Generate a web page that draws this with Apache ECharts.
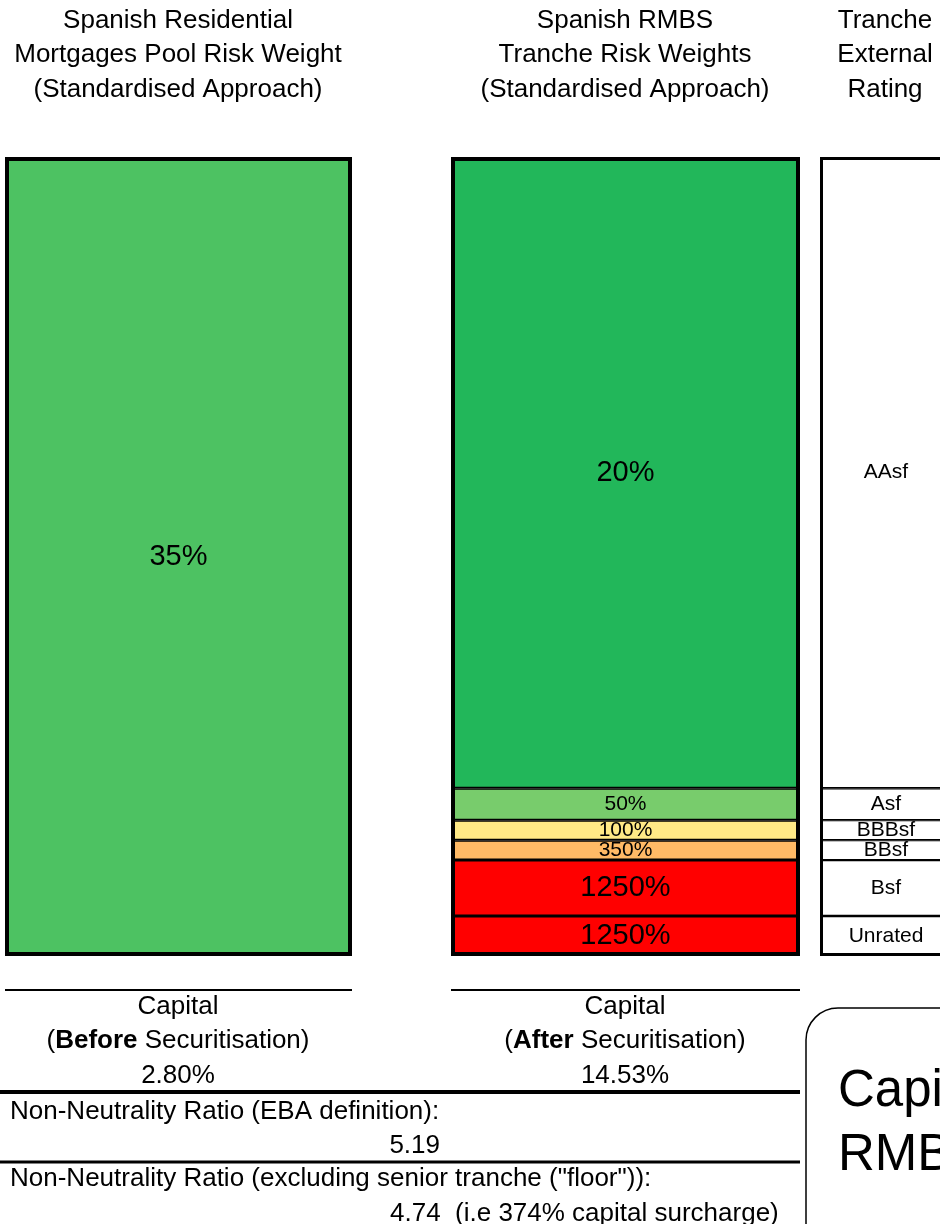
<!DOCTYPE html>
<html>
<head>
<meta charset="utf-8">
<script src="https://cdn.jsdelivr.net/npm/echarts@6/dist/echarts.min.js"></script>
<style>
  html, body { margin: 0; padding: 0; background: #ffffff; }
  #chart { width: 940px; height: 1224px; }
</style>
</head>
<body>
<div id="chart"></div>
<script>
// Pool before securitisation
var poolSize = [100];
var poolRiskWeight = '35%';

// RMBS tranches, senior first (share of the pool, %)
var trancheSizes = [79, 4, 2.5, 2.5, 7, 5];
var trancheRiskWeights = ['20%', '50%', '100%', '350%', '1250%', '1250%'];
var trancheRatings = ['AAsf', 'Asf', 'BBBsf', 'BBsf', 'Bsf', 'Unrated'];
var trancheColors = ['#22b75a', '#78cc6c', '#ffe986', '#ffba66', '#ff0000', '#ff0000'];
var weightFontSizes = [29, 21, 21, 21, 29, 29];

// Summary figures
var capitalBefore = '2.80%';
var capitalAfter = '14.53%';
var ratioEBA = '5.19';
var ratioFloor = '4.74';
var surcharge = '374%';

var FONT = '"Liberation Sans", Arial, Helvetica, sans-serif';
var FS = 26;

var chart = echarts.init(document.getElementById('chart'), null, { renderer: 'canvas' });

// The rating column runs past the right edge of the page, so its bars are
// given a fixed width wider than their (centred) grid.
var RATING_BAR_WIDTH = 132;
var grids = [
  { left: 5, width: 347, top: 157, height: 799 },
  { left: 451, width: 349, top: 157, height: 799 },
  { left: 846, width: 80, top: 157, height: 799 }
];

var xAxes = [], yAxes = [];
for (var g = 0; g < 3; g++) {
  xAxes.push({ type: 'category', gridIndex: g, data: ['c'], show: false });
  yAxes.push({ type: 'value', gridIndex: g, min: 0, max: 100, inverse: true, show: false });
}

var series = [];

// Pool column
series.push({
  type: 'bar', xAxisIndex: 0, yAxisIndex: 0, stack: 'pool', barWidth: '100%',
  data: poolSize,
  itemStyle: { color: '#4dc262', borderColor: '#000', borderWidth: 4 },
  label: { show: true, position: 'inside', formatter: poolRiskWeight,
           color: '#000', fontSize: 29, fontFamily: FONT }
});

// Tranche risk weights and ratings
trancheSizes.forEach(function (v, i) {
  series.push({
    type: 'bar', xAxisIndex: 1, yAxisIndex: 1, stack: 'rmbs', barWidth: '100%',
    data: [v],
    itemStyle: { color: trancheColors[i], borderColor: '#000', borderWidth: 1.5 },
    label: { show: true, position: 'inside', formatter: trancheRiskWeights[i],
             color: '#000', fontSize: weightFontSizes[i], lineHeight: weightFontSizes[i],
             fontFamily: FONT }
  });
  series.push({
    type: 'bar', xAxisIndex: 2, yAxisIndex: 2, stack: 'rating', barWidth: RATING_BAR_WIDTH,
    data: [v], clip: false,
    itemStyle: { color: '#ffffff', borderColor: '#000', borderWidth: 1.2 },
    label: { show: true, position: 'inside', formatter: trancheRatings[i],
             color: '#000', fontSize: 21, lineHeight: 21, fontFamily: FONT }
  });
});

// Outer frames around the tranche columns
series.push({
  type: 'bar', xAxisIndex: 1, yAxisIndex: 1, barWidth: '100%', barGap: '-100%', z: 5,
  data: [100], silent: true,
  itemStyle: { color: 'rgba(0,0,0,0)', borderColor: '#000', borderWidth: 4 }
});
series.push({
  type: 'bar', xAxisIndex: 2, yAxisIndex: 2, barWidth: RATING_BAR_WIDTH, barGap: '-100%', z: 5,
  data: [100], silent: true, clip: false,
  itemStyle: { color: 'rgba(0,0,0,0)', borderColor: '#000', borderWidth: 3 }
});

function txt(x, y, text, size, align, extra) {
  var style = { text: text, x: x, y: y, fill: '#000', font: size + 'px ' + FONT,
                textAlign: align || 'center', textVerticalAlign: 'middle' };
  if (extra) for (var k in extra) style[k] = extra[k];
  return { type: 'text', style: style, z: 10 };
}
function richTxt(x, y, text) {
  return {
    type: 'text', z: 10,
    style: {
      x: x, y: y, textAlign: 'center', textVerticalAlign: 'middle',
      text: text, font: FS + 'px ' + FONT, fill: '#000',
      rich: { b: { fontWeight: 'bold', fontSize: FS, fontFamily: FONT, fill: '#000' } }
    }
  };
}
function hline(x1, x2, y, w) {
  return { type: 'line', shape: { x1: x1, y1: y, x2: x2, y2: y },
           style: { stroke: '#000', lineWidth: w }, z: 10 };
}

var graphics = [
  // column headings
  txt(178, 21, 'Spanish Residential', FS),
  txt(178, 55, 'Mortgages Pool Risk Weight', FS),
  txt(178, 90, '(Standardised Approach)', FS),
  txt(625, 21, 'Spanish RMBS', FS),
  txt(625, 55, 'Tranche Risk Weights', FS),
  txt(625, 90, '(Standardised Approach)', FS),
  txt(885, 21, 'Tranche', FS),
  txt(885, 55, 'External', FS),
  txt(885, 90, 'Rating', FS),

  // capital before / after
  hline(5, 352, 990, 2),
  hline(451, 800, 990, 2),
  txt(178, 1007, 'Capital', FS),
  richTxt(178, 1041, '({b|Before} Securitisation)'),
  txt(178, 1076, capitalBefore, FS),
  txt(625, 1007, 'Capital', FS),
  richTxt(625, 1041, '({b|After} Securitisation)'),
  txt(625, 1076, capitalAfter, FS),

  // non-neutrality ratios
  hline(0, 800, 1092, 4),
  txt(10, 1112, 'Non-Neutrality Ratio (EBA definition):', FS, 'left'),
  txt(440, 1146, ratioEBA, FS, 'right'),
  hline(0, 800, 1162, 3),
  txt(10, 1179, 'Non-Neutrality Ratio (excluding senior tranche ("floor")):', FS, 'left'),
  txt(390, 1214, ratioFloor + '  (i.e ' + surcharge + ' capital surcharge)', FS, 'left'),

  // headline box
  { type: 'rect', shape: { x: 806, y: 1008, width: 260, height: 300, r: 32 },
    style: { fill: '#fff', stroke: '#000', lineWidth: 1.5 }, z: 9 },
  txt(838, 1092, 'Capital', 51, 'left'),
  txt(838, 1156, 'RMBS', 51, 'left')
];

chart.setOption({
  animation: false,
  backgroundColor: '#ffffff',
  grid: grids,
  xAxis: xAxes,
  yAxis: yAxes,
  series: series,
  graphic: graphics
});
</script>
</body>
</html>
